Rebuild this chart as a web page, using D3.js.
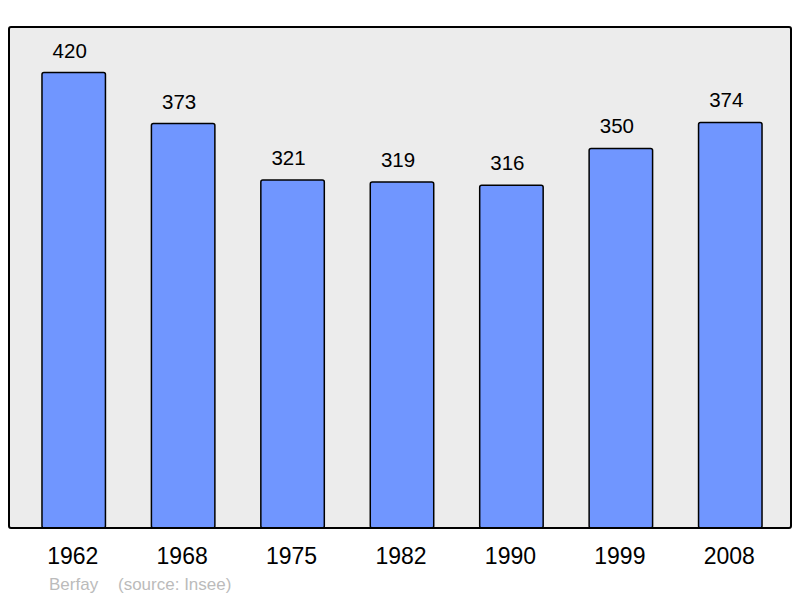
<!DOCTYPE html>
<html>
<head>
<meta charset="utf-8">
<script src="https://cdn.jsdelivr.net/npm/d3@7"></script>
<style>
  body { margin: 0; background: #fff; }
  svg { display: block; font-family: "Liberation Sans", Arial, sans-serif; }
</style>
</head>
<body>
<script>
// data
var years = ["1962", "1968", "1975", "1982", "1990", "1999", "2008"];
var population = [420, 373, 321, 319, 316, 350, 374];
var footLeft = "Berfay";
var footRight = "(source: Insee)";

var svgWidth = 800;
var svgHeight = 598;

// plot frame
var frame = { left: 9, top: 27, right: 791, bottom: 528 };

var svg = d3.select("body")
  .append("svg")
  .attr("width", svgWidth)
  .attr("height", svgHeight);

// scales
var xScale = d3.scaleBand()
  .domain(years)
  .range([19, 785])
  .paddingInner(0.42)
  .paddingOuter(0.21);

var yScale = d3.scaleLinear()
  .domain([0, d3.max(population) * 1.1])
  .range([frame.bottom, frame.top]);

// background panel
svg.append("rect")
  .attr("x", frame.left)
  .attr("y", frame.top)
  .attr("width", frame.right - frame.left)
  .attr("height", frame.bottom - frame.top)
  .attr("rx", 2)
  .attr("fill", "#ececec");

// bars
var rows = years.map(function(y, i) { return { year: y, value: population[i] }; });

svg.append("g")
  .selectAll("rect")
  .data(rows)
  .enter()
  .append("rect")
  .attr("x", d => xScale(d.year))
  .attr("y", d => yScale(d.value))
  .attr("width", xScale.bandwidth())
  .attr("height", d => yScale(0) - yScale(d.value))
  .attr("rx", 2)
  .attr("fill", "#7096ff")
  .attr("stroke", "#000")
  .attr("stroke-width", 1.5);

// frame border drawn over bar bottoms
svg.append("rect")
  .attr("x", frame.left)
  .attr("y", frame.top)
  .attr("width", frame.right - frame.left)
  .attr("height", frame.bottom - frame.top)
  .attr("rx", 2)
  .attr("fill", "none")
  .attr("stroke", "#000")
  .attr("stroke-width", 2);

// value labels
svg.append("g")
  .selectAll("text")
  .data(rows)
  .enter()
  .append("text")
  .attr("x", d => xScale(d.year) + xScale.bandwidth() / 2 - 4)
  .attr("y", d => yScale(d.value) - 15)
  .attr("text-anchor", "middle")
  .attr("font-size", "20.5px")
  .attr("fill", "#000")
  .text(d => d.value);

// x axis labels
var xAxis = d3.axisBottom(xScale).tickSize(0).tickPadding(0);
var axisG = svg.append("g")
  .attr("transform", `translate(0, ${frame.bottom})`)
  .call(xAxis);
axisG.select(".domain").remove();
axisG.selectAll("text")
  .attr("font-family", "Liberation Sans, Arial, sans-serif")
  .attr("font-size", "23px")
  .attr("fill", "#000")
  .attr("dy", null)
  .attr("x", -1)
  .attr("y", 36);

// footer
svg.append("text")
  .attr("x", 49)
  .attr("y", 590)
  .attr("font-size", "17px")
  .attr("fill", "#bbbbbb")
  .text(footLeft);

svg.append("text")
  .attr("x", 118)
  .attr("y", 590)
  .attr("font-size", "17px")
  .attr("fill", "#bbbbbb")
  .text(footRight);
</script>
</body>
</html>
